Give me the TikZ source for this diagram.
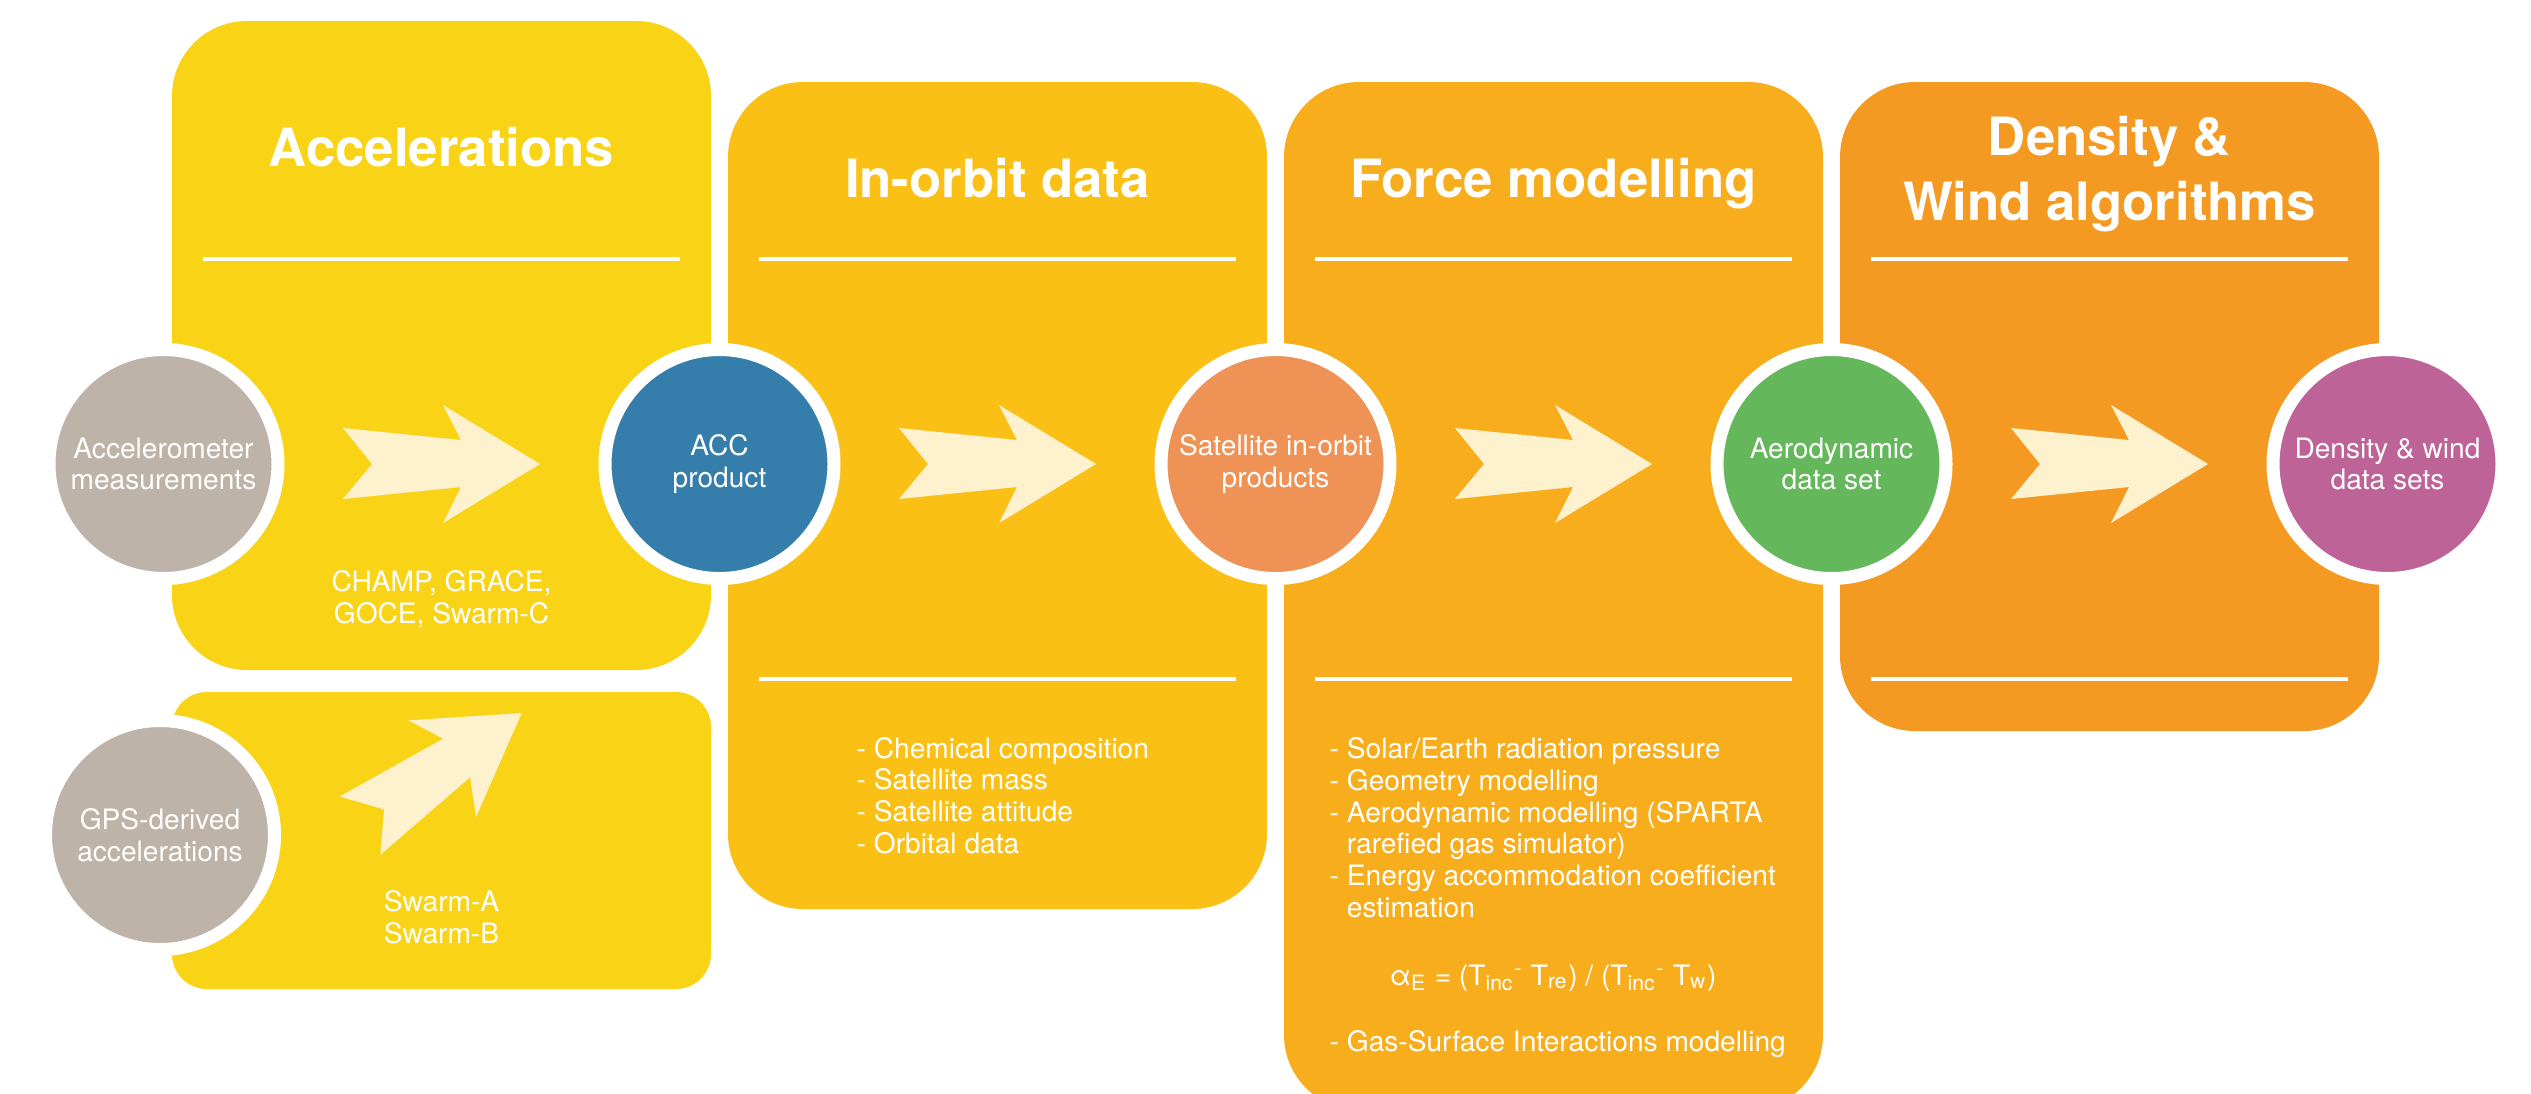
\documentclass[tikz,border=0pt]{standalone}
\usepackage{fontspec}
\setmainfont{TeX Gyre Heros}
\usepackage{tikz}
\usetikzlibrary{calc}

\definecolor{accyellow}{HTML}{F9D316}
\definecolor{orbityellow}{HTML}{FAC015}
\definecolor{forceorange}{HTML}{F8AE1C}
\definecolor{windorange}{HTML}{F49A22}
\definecolor{measgrey}{HTML}{BEB3A8}
\definecolor{accblue}{HTML}{357DAA}
\definecolor{satorange}{HTML}{EF9255}
\definecolor{aerogreen}{HTML}{65B75C}
\definecolor{denspurple}{HTML}{BE6398}
\definecolor{arrowpale}{HTML}{FDF2CD}

\tikzset{
  chevron/.pic={
    \fill[arrowpale] (0.985,0) -- (0.015,0.59) -- (0.195,0.24) -- (-0.985,0.36)
      -- (-0.695,0) -- (-0.985,-0.35) -- (0.195,-0.23) -- (0.015,-0.59) -- cycle;
  }
}

\begin{document}
\begin{tikzpicture}[
  panel/.style={rectangle, rounded corners=0.75cm, inner sep=0pt, minimum width=5.39cm},
  sepline/.style={draw=white, line width=0.045cm},
  stage/.style={circle, draw=white, line width=0.13cm, minimum size=2.29cm, inner sep=0pt,
    text=white, align=center, font=\fontsize{8}{9}\selectfont},
  title/.style={text=white, font=\bfseries\fontsize{15}{18.4}\selectfont, align=center,
    anchor=base, inner sep=0pt},
  note/.style={text=white, font=\fontsize{8}{9}\selectfont, inner sep=0pt}
]
\useasboundingbox (0,0) rectangle (25.31,-10.93);

\node[panel, fill=accyellow, minimum height=6.49cm] (accpanel) at (4.415,-3.455) {};
\node[panel, fill=accyellow, minimum height=2.97cm, rounded corners=0.35cm] (gpspanel) at (4.415,-8.405) {};
\node[panel, fill=orbityellow, minimum height=8.27cm] (orbitpanel) at (9.975,-4.955) {};
\node[panel, fill=forceorange, minimum height=10.28cm] (forcepanel) at (15.535,-5.96) {};
\node[panel, fill=windorange, minimum height=6.49cm] (windpanel) at (21.095,-4.065) {};

\foreach \x/\y in {1.72/-2.59, 7.28/-2.59, 12.84/-2.59, 18.40/-2.59, 7.28/-6.79, 12.84/-6.79, 18.40/-6.79}
  \draw[sepline] (\x+0.31,\y) -- (\x+5.08,\y);

\node[title] (acctitle) at (4.415,-1.66) {Accelerations};
\node[title] (orbittitle) at (9.975,-1.975) {In-orbit data};
\node[title] (forcetitle) at (15.535,-1.975) {Force modelling};
\node[title] (windtitle) at (21.095,-2.20) {Density \&\\Wind algorithms};

\node[stage, fill=measgrey] (meas) at (1.635,-4.64) {Accelerometer\\measurements};
\node[stage, fill=accblue] (acc) at (7.195,-4.64) {ACC\\product};
\node[stage, fill=satorange] (sat) at (12.755,-4.64) {Satellite in-orbit\\products};
\node[stage, fill=aerogreen] (aero) at (18.315,-4.64) {Aerodynamic\\data set};
\node[stage, fill=denspurple] (dens) at (23.875,-4.64) {Density \& wind\\data sets};
\node[stage, fill=measgrey] (gps) at (1.60,-8.35) {GPS-derived\\accelerations};

\foreach \a/\b in {meas/acc, acc/sat, sat/aero, aero/dens}
  \pic at ($(\a)!0.5!(\b)$) {chevron};
\pic[rotate=35] at (4.41,-7.695) {chevron};

\node[note, align=center, anchor=base] (accsats) at (4.415,-6.23) {CHAMP, GRACE,\\GOCE, Swarm-C};
\node[note, align=center, anchor=base] (gpssats) at (4.415,-9.43) {Swarm-A\\Swarm-B};

\node[note, align=left, anchor=base west] (orbitlist) at (8.56,-8.53)
  {- Chemical composition\\- Satellite mass\\- Satellite attitude\\- Orbital data};
\node[note, align=left, anchor=base west] (forcelist) at (13.29,-9.17)
  {- Solar/Earth radiation pressure\\- Geometry modelling\\- Aerodynamic modelling (SPARTA\\\phantom{- }rarefied gas simulator)\\- Energy accommodation coefficient\\\phantom{- }estimation};
\node[note, anchor=base] (alphaE) at (15.53,-9.85)
  {α\textsubscript{E} = (T\textsubscript{inc}\textsuperscript{-} T\textsubscript{re}) / (T\textsubscript{inc}\textsuperscript{-} T\textsubscript{w})};
\node[note, anchor=base west] (gsi) at (13.29,-10.51) {- Gas-Surface Interactions modelling};

\end{tikzpicture}
\end{document}
